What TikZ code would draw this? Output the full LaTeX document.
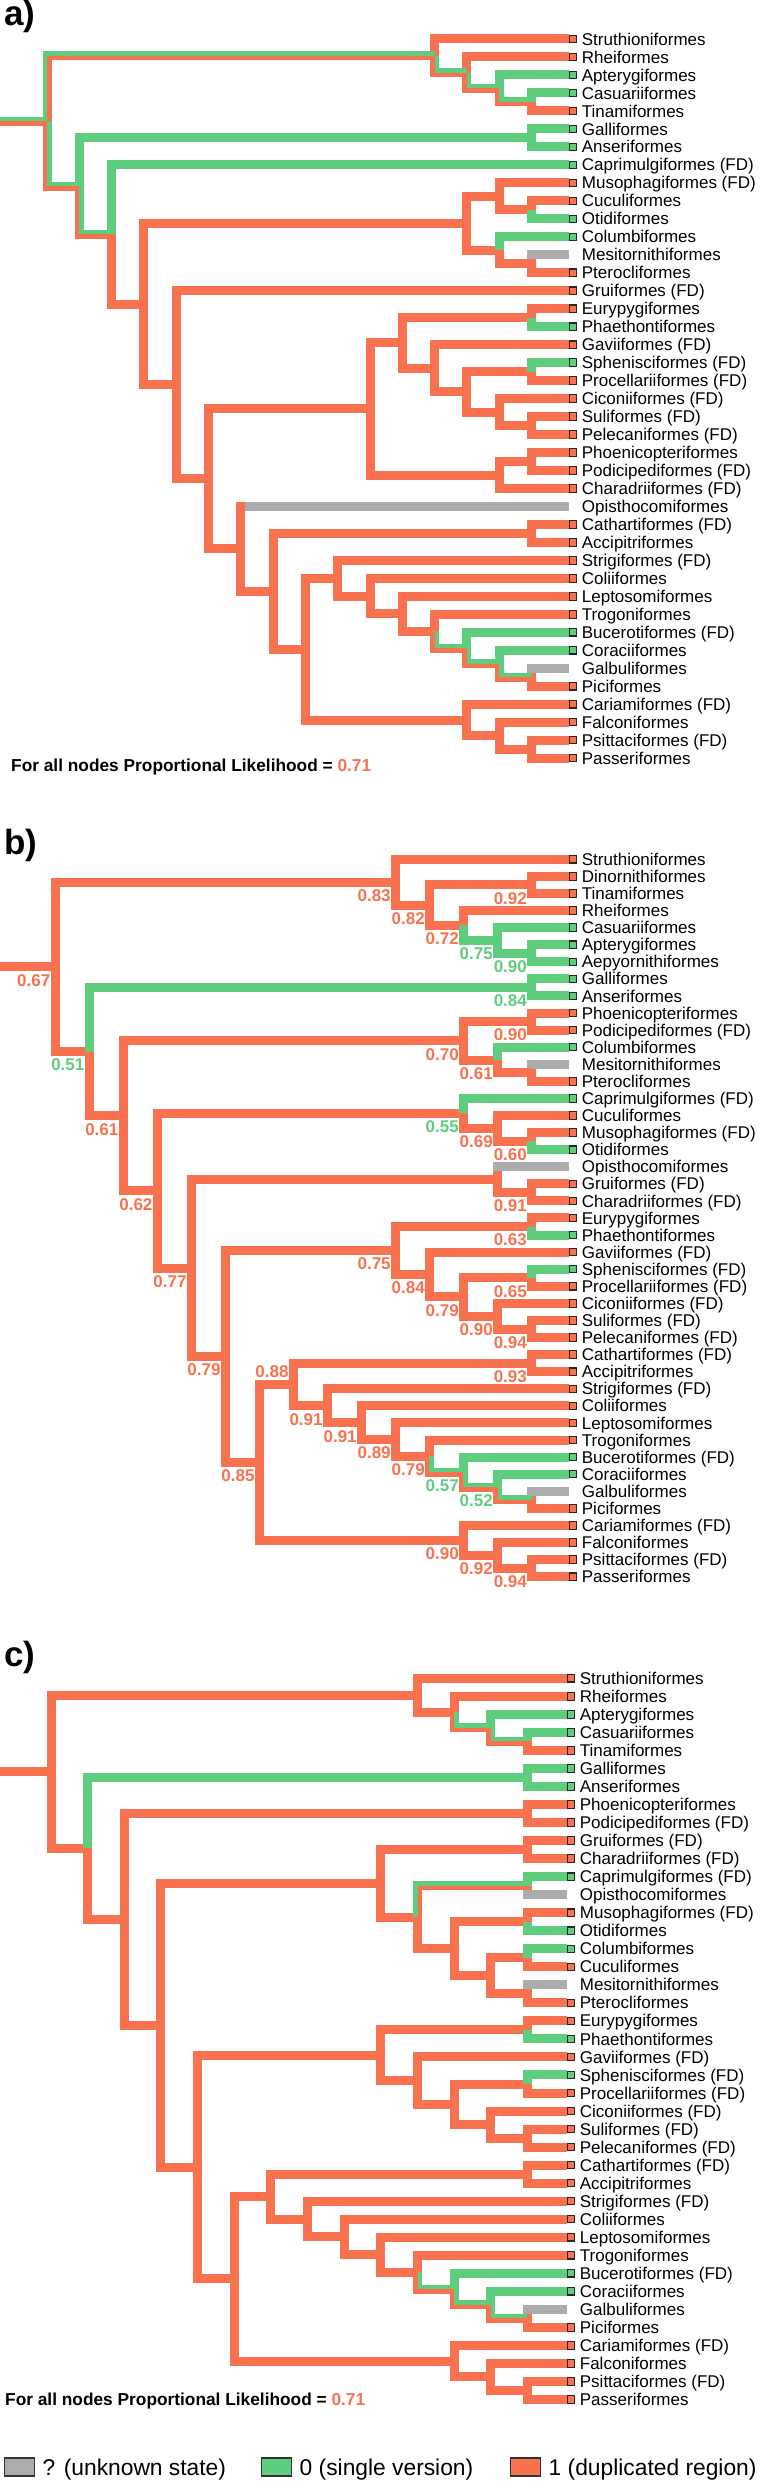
\documentclass[tikz,border=0pt]{standalone}
\usepackage{fontspec}
\setmainfont{Liberation Sans}
\usetikzlibrary{calc, positioning}

\definecolor{co}{RGB}{249,114,79}
\definecolor{cg}{RGB}{94,206,126}
\definecolor{cu}{RGB}{172,172,172}

% clade node: name, level, first child, second child
\newcommand\clade[4]{\path let \p1=($(#3)!.5!(#4)$) in ({\xo+#2*\dx},\y1) coordinate (#1);}
\newcommand\branch[3][co]{\draw[br,#1] (#2) |- (#3);}
\newcommand\mixup[2]{%
  \draw[half,cg] ($(#1)+(-2.25,0)$) |- ($(#2)+(0,-2.25)$);
  \draw[half,co] ($(#1)+(2.25,0)$) |- ($(#2)+(0,2.25)$);}
\newcommand\mixdown[2]{%
  \draw[half,cg] ($(#1)+(2.25,0)$) |- ($(#2)+(0,-2.25)$);
  \draw[half,co] ($(#1)+(-2.25,0)$) |- ($(#2)+(0,2.25)$);}
\newcommand\unknowntip[3][-4.5]{%
  \draw[br,co] (#2) |- (#3.west);
  \draw[br,cu] ($(#2 |- #3)+(#1,0)$) -- (#3.west);}

\begin{document}
\begin{tikzpicture}[
    x=1pt, y=-1pt,
    br/.style={line width=9pt},
    half/.style={line width=4.5pt},
    tipbox/.style={draw=black!85, line width=1.1pt, minimum size=7.4pt, inner sep=0pt, outer sep=0pt},
    bo/.style={fill=co}, bg/.style={fill=cg}, bu/.style={draw=none},
    tiplab/.style={font=\fontsize{17}{17}\selectfont, inner sep=0pt, text height=12.2pt, text depth=0pt},
    nl/.style={font=\bfseries\fontsize{17}{17}\selectfont, inner sep=0pt, text height=12.2pt, text depth=0pt},
    note/.style={anchor=west, font=\bfseries\fontsize{17.3}{17.3}\selectfont, inner sep=0pt, text height=12.4pt, text depth=0pt},
    panel/.style={anchor=base west, font=\bfseries\fontsize{35}{35}\selectfont, inner sep=0pt},
    legbox/.style={draw=black!80, line width=1.2pt, minimum width=30pt, minimum height=18pt, inner sep=0pt, outer sep=0pt},
    legtext/.style={font=\fontsize{22.8}{22.8}\selectfont, inner sep=0pt, text height=16.3pt, text depth=0pt}
]
\useasboundingbox (0,0) rectangle (760,2481);

% ================= a) =================
\node[panel] (pa) at (4,26) {a)};
\foreach \id/\st/\lab [count=\i from 0] in {stru/o/Struthioniformes, rhei/o/Rheiformes, apte/g/Apterygiformes, casu/g/Casuariiformes, tina/o/Tinamiformes, gall/g/Galliformes, anse/g/Anseriformes, capr/g/Caprimulgiformes (FD), muso/o/Musophagiformes (FD), cucu/o/Cuculiformes, otid/g/Otidiformes, colu/g/Columbiformes, mesi/u/Mesitornithiformes, pter/o/Pterocliformes, grui/o/Gruiformes (FD), eury/o/Eurypygiformes, phae/g/Phaethontiformes, gavi/o/Gaviiformes (FD), sphe/g/Sphenisciformes (FD), proc/o/Procellariiformes (FD), cico/o/Ciconiiformes (FD), suli/o/Suliformes (FD), pele/o/Pelecaniformes (FD), phoe/o/Phoenicopteriformes, podi/o/Podicipediformes (FD), char/o/Charadriiformes (FD), opis/u/Opisthocomiformes, cath/o/Cathartiformes (FD), acci/o/Accipitriformes, stri/o/Strigiformes (FD), coli/o/Coliiformes, lept/o/Leptosomiformes, trog/o/Trogoniformes, buce/g/Bucerotiformes (FD), cora/g/Coraciiformes, galb/u/Galbuliformes, pici/o/Piciformes, cari/o/Cariamiformes (FD), falc/o/Falconiformes, psit/o/Psittaciformes (FD), pass/o/Passeriformes}
{\node[tipbox,b\st] (a-\id) at (573,{39+\i*17.98}) {};
 \node[tiplab, right=5pt of a-\id] (a-\id-t) {\lab};}

\def\xo{47}\def\dx{32.3}
\clade{a-ct}{15}{a-casu}{a-tina}
\clade{a-ac}{14}{a-apte}{a-ct}
\clade{a-rp}{13}{a-rhei}{a-ac}
\clade{a-pal}{12}{a-stru}{a-rp}
\clade{a-ga}{15}{a-gall}{a-anse}
\clade{a-co}{15}{a-cucu}{a-otid}
\clade{a-mc}{14}{a-muso}{a-co}
\clade{a-mp}{15}{a-mesi}{a-pter}
\clade{a-cm}{14}{a-colu}{a-mp}
\clade{a-oti}{13}{a-mc}{a-cm}
\clade{a-ep}{15}{a-eury}{a-phae}
\clade{a-sp}{15}{a-sphe}{a-proc}
\clade{a-sup}{15}{a-suli}{a-pele}
\clade{a-cs}{14}{a-cico}{a-sup}
\clade{a-spc}{13}{a-sp}{a-cs}
\clade{a-gav}{12}{a-gavi}{a-spc}
\clade{a-aq1}{11}{a-ep}{a-gav}
\clade{a-pp}{15}{a-phoe}{a-podi}
\clade{a-ppc}{14}{a-pp}{a-char}
\clade{a-aeq}{10}{a-aq1}{a-ppc}
\clade{a-ca}{15}{a-cath}{a-acci}
\clade{a-gp}{15}{a-galb}{a-pici}
\clade{a-cgp}{14}{a-cora}{a-gp}
\clade{a-bcg}{13}{a-buce}{a-cgp}
\clade{a-tbc}{12}{a-trog}{a-bcg}
\clade{a-ltb}{11}{a-lept}{a-tbc}
\clade{a-clt}{10}{a-coli}{a-ltb}
\clade{a-scl}{9}{a-stri}{a-clt}
\clade{a-psp}{15}{a-psit}{a-pass}
\clade{a-fps}{14}{a-falc}{a-psp}
\clade{a-cfp}{13}{a-cari}{a-fps}
\clade{a-te3}{8}{a-scl}{a-cfp}
\clade{a-te2}{7}{a-ca}{a-te3}
\clade{a-tel}{6}{a-opis}{a-te2}
\clade{a-r4}{5}{a-aeq}{a-tel}
\clade{a-r3}{4}{a-grui}{a-r4}
\clade{a-r2}{3}{a-oti}{a-r3}
\clade{a-na}{2}{a-capr}{a-r2}
\clade{a-neo}{1}{a-ga}{a-na}
\clade{a-root}{0}{a-pal}{a-neo}
\coordinate (a-base) at ($(a-root)+(-47,0)$);

% ---- unknown tips ----
\unknowntip{a-mp}{a-mesi}
\unknowntip[4.5]{a-tel}{a-opis}
\unknowntip{a-gp}{a-galb}
% ---- state 1 ----
\foreach \p/\c in {a-pal/a-stru.west, a-rp/a-rhei.west, a-ct/a-tina.west, a-na/a-r2, a-r2/a-oti, a-oti/a-mc, a-mc/a-muso.west, a-mc/a-co, a-co/a-cucu.west, a-oti/a-cm, a-cm/a-mp, a-mp/a-pter.west, a-r2/a-r3, a-r3/a-grui.west, a-r3/a-r4, a-r4/a-aeq, a-aeq/a-aq1, a-aq1/a-ep, a-ep/a-eury.west, a-aq1/a-gav, a-gav/a-gavi.west, a-gav/a-spc, a-spc/a-sp, a-sp/a-proc.west, a-spc/a-cs, a-cs/a-cico.west, a-cs/a-sup, a-sup/a-suli.west, a-sup/a-pele.west, a-aeq/a-ppc, a-ppc/a-pp, a-pp/a-phoe.west, a-pp/a-podi.west, a-ppc/a-char.west, a-r4/a-tel, a-tel/a-te2, a-te2/a-ca, a-ca/a-cath.west, a-ca/a-acci.west, a-te2/a-te3, a-te3/a-scl, a-scl/a-stri.west, a-scl/a-clt, a-clt/a-coli.west, a-clt/a-ltb, a-ltb/a-lept.west, a-ltb/a-tbc, a-tbc/a-trog.west, a-gp/a-pici.west, a-te3/a-cfp, a-cfp/a-cari.west, a-cfp/a-fps, a-fps/a-falc.west, a-fps/a-psp, a-psp/a-psit.west, a-psp/a-pass.west}
  {\branch{\p}{\c}}
% ---- state 0 ----
\foreach \p/\c in {a-ac/a-apte.west, a-ct/a-casu.west, a-neo/a-ga, a-ga/a-gall.west, a-ga/a-anse.west, a-na/a-capr.west, a-co/a-otid.west, a-cm/a-colu.west, a-ep/a-phae.west, a-sp/a-sphe.west, a-bcg/a-buce.west, a-cgp/a-cora.west}
  {\branch[cg]{\p}{\c}}
% ---- mixed ----
\mixup{a-base}{a-root}
\mixup{a-root}{a-pal}
\foreach \p/\c in {a-root/a-neo, a-pal/a-rp, a-rp/a-ac, a-ac/a-ct, a-neo/a-na, a-tbc/a-bcg, a-bcg/a-cgp, a-cgp/a-gp}
  {\mixdown{\p}{\c}}

\node[note] (a-note) at (11,765) {For all nodes Proportional Likelihood = \textcolor{co}{0.71}};

% ================= b) =================
\node[panel] (pb) at (4,854) {b)};
\foreach \id/\st/\lab [count=\i from 0] in {stru/o/Struthioniformes, dino/o/Dinornithiformes, tina/o/Tinamiformes, rhei/o/Rheiformes, casu/g/Casuariiformes, apte/g/Apterygiformes, aepy/g/Aepyornithiformes, gall/g/Galliformes, anse/g/Anseriformes, phoe/o/Phoenicopteriformes, podi/o/Podicipediformes (FD), colu/g/Columbiformes, mesi/u/Mesitornithiformes, pter/o/Pterocliformes, capr/g/Caprimulgiformes (FD), cucu/o/Cuculiformes, muso/o/Musophagiformes (FD), otid/g/Otidiformes, opis/u/Opisthocomiformes, grui/o/Gruiformes (FD), char/o/Charadriiformes (FD), eury/o/Eurypygiformes, phae/g/Phaethontiformes, gavi/o/Gaviiformes (FD), sphe/g/Sphenisciformes (FD), proc/o/Procellariiformes (FD), cico/o/Ciconiiformes (FD), suli/o/Suliformes (FD), pele/o/Pelecaniformes (FD), cath/o/Cathartiformes (FD), acci/o/Accipitriformes, stri/o/Strigiformes (FD), coli/o/Coliiformes, lept/o/Leptosomiformes, trog/o/Trogoniformes, buce/g/Bucerotiformes (FD), cora/g/Coraciiformes, galb/u/Galbuliformes, pici/o/Piciformes, cari/o/Cariamiformes (FD), falc/o/Falconiformes, psit/o/Psittaciformes (FD), pass/o/Passeriformes}
{\node[tipbox,b\st] (b-\id) at (573,{859.3+\i*17.08}) {};
 \node[tiplab, right=5pt of b-\id] (b-\id-t) {\lab};}

\def\xo{55}\def\dx{34.04}
\clade{b-dt}{14}{b-dino}{b-tina}
\clade{b-aa}{14}{b-apte}{b-aepy}
\clade{b-caa}{13}{b-casu}{b-aa}
\clade{b-rca}{12}{b-rhei}{b-caa}
\clade{b-p1}{11}{b-dt}{b-rca}
\clade{b-pal}{10}{b-stru}{b-p1}
\clade{b-ga}{14}{b-gall}{b-anse}
\clade{b-pp}{14}{b-phoe}{b-podi}
\clade{b-mp}{14}{b-mesi}{b-pter}
\clade{b-cmp}{13}{b-colu}{b-mp}
\clade{b-c1}{12}{b-pp}{b-cmp}
\clade{b-mo}{14}{b-muso}{b-otid}
\clade{b-cmo}{13}{b-cucu}{b-mo}
\clade{b-c2}{12}{b-capr}{b-cmo}
\clade{b-gc}{14}{b-grui}{b-char}
\clade{b-c3}{13}{b-opis}{b-gc}
\clade{b-ep}{14}{b-eury}{b-phae}
\clade{b-sp}{14}{b-sphe}{b-proc}
\clade{b-sup}{14}{b-suli}{b-pele}
\clade{b-cs}{13}{b-cico}{b-sup}
\clade{b-spc}{12}{b-sp}{b-cs}
\clade{b-gav}{11}{b-gavi}{b-spc}
\clade{b-aeq}{10}{b-ep}{b-gav}
\clade{b-ca}{14}{b-cath}{b-acci}
\clade{b-gp}{14}{b-galb}{b-pici}
\clade{b-cgp}{13}{b-cora}{b-gp}
\clade{b-bcg}{12}{b-buce}{b-cgp}
\clade{b-tbc}{11}{b-trog}{b-bcg}
\clade{b-ltb}{10}{b-lept}{b-tbc}
\clade{b-clt}{9}{b-coli}{b-ltb}
\clade{b-scl}{8}{b-stri}{b-clt}
\clade{b-te1}{7}{b-ca}{b-scl}
\clade{b-psp}{14}{b-psit}{b-pass}
\clade{b-fps}{13}{b-falc}{b-psp}
\clade{b-cfp}{12}{b-cari}{b-fps}
\clade{b-tel}{6}{b-te1}{b-cfp}
\clade{b-na4}{5}{b-aeq}{b-tel}
\clade{b-na3}{4}{b-c3}{b-na4}
\clade{b-na2}{3}{b-c2}{b-na3}
\clade{b-na}{2}{b-c1}{b-na2}
\clade{b-neo}{1}{b-ga}{b-na}
\clade{b-root}{0}{b-pal}{b-neo}
\coordinate (b-base) at ($(b-root)+(-55,0)$);

\unknowntip{b-mp}{b-mesi}
\unknowntip{b-c3}{b-opis}
\unknowntip{b-gp}{b-galb}
\foreach \p/\c in {b-base/b-root, b-root/b-pal, b-pal/b-stru.west, b-pal/b-p1, b-p1/b-dt, b-dt/b-dino.west, b-dt/b-tina.west, b-p1/b-rca, b-rca/b-rhei.west, b-root/b-neo, b-neo/b-na, b-na/b-c1, b-c1/b-pp, b-pp/b-phoe.west, b-pp/b-podi.west, b-c1/b-cmp, b-cmp/b-mp, b-mp/b-pter.west, b-na/b-na2, b-na2/b-c2, b-c2/b-cmo, b-cmo/b-cucu.west, b-cmo/b-mo, b-mo/b-muso.west, b-na2/b-na3, b-na3/b-c3, b-c3/b-gc, b-gc/b-grui.west, b-gc/b-char.west, b-na3/b-na4, b-na4/b-aeq, b-aeq/b-ep, b-ep/b-eury.west, b-aeq/b-gav, b-gav/b-gavi.west, b-gav/b-spc, b-spc/b-sp, b-sp/b-proc.west, b-spc/b-cs, b-cs/b-cico.west, b-cs/b-sup, b-sup/b-suli.west, b-sup/b-pele.west, b-na4/b-tel, b-tel/b-te1, b-te1/b-ca, b-ca/b-cath.west, b-ca/b-acci.west, b-te1/b-scl, b-scl/b-stri.west, b-scl/b-clt, b-clt/b-coli.west, b-clt/b-ltb, b-ltb/b-lept.west, b-ltb/b-tbc, b-tbc/b-trog.west, b-gp/b-pici.west, b-tel/b-cfp, b-cfp/b-cari.west, b-cfp/b-fps, b-fps/b-falc.west, b-fps/b-psp, b-psp/b-psit.west, b-psp/b-pass.west}
  {\branch{\p}{\c}}
\foreach \p/\c in {b-rca/b-caa, b-caa/b-casu.west, b-caa/b-aa, b-aa/b-apte.west, b-aa/b-aepy.west, b-neo/b-ga, b-ga/b-gall.west, b-ga/b-anse.west, b-cmp/b-colu.west, b-c2/b-capr.west, b-mo/b-otid.west, b-ep/b-phae.west, b-sp/b-sphe.west, b-bcg/b-buce.west, b-cgp/b-cora.west}
  {\branch[cg]{\p}{\c}}
\foreach \p/\c in {b-tbc/b-bcg, b-bcg/b-cgp, b-cgp/b-gp}
  {\mixdown{\p}{\c}}

% ---- node likelihoods ----
\foreach \n/\v/\c in {b-root/0.67/co, b-pal/0.83/co, b-p1/0.82/co, b-dt/0.92/co, b-rca/0.72/co, b-caa/0.75/cg, b-aa/0.90/cg, b-ga/0.84/cg, b-neo/0.51/cg, b-pp/0.90/co, b-c1/0.70/co, b-cmp/0.61/co, b-na/0.61/co, b-c2/0.55/cg, b-cmo/0.69/co, b-mo/0.60/co, b-gc/0.91/co, b-na2/0.62/co, b-na3/0.77/co, b-aeq/0.75/co, b-ep/0.63/co, b-gav/0.84/co, b-sp/0.65/co, b-spc/0.79/co, b-cs/0.90/co, b-sup/0.94/co, b-na4/0.79/co, b-ca/0.93/co, b-scl/0.91/co, b-clt/0.91/co, b-ltb/0.89/co, b-tbc/0.79/co, b-bcg/0.57/cg, b-cgp/0.52/cg, b-tel/0.85/co, b-cfp/0.90/co, b-fps/0.92/co, b-psp/0.94/co}
  {\node[nl, text=\c, below left=7pt and 4.5pt of \n] (\n-v) {\v};}
\node[nl, text=co, above left=7pt and 4.5pt of b-te1] (b-te1-v) {0.88};

% ================= c) =================
\node[panel] (pc) at (4,1666) {c)};
\foreach \id/\st/\lab [count=\i from 0] in {stru/o/Struthioniformes, rhei/o/Rheiformes, apte/g/Apterygiformes, casu/g/Casuariiformes, tina/o/Tinamiformes, gall/g/Galliformes, anse/g/Anseriformes, phoe/o/Phoenicopteriformes, podi/o/Podicipediformes (FD), grui/o/Gruiformes (FD), char/o/Charadriiformes (FD), capr/g/Caprimulgiformes (FD), opis/u/Opisthocomiformes, muso/o/Musophagiformes (FD), otid/g/Otidiformes, colu/g/Columbiformes, cucu/o/Cuculiformes, mesi/u/Mesitornithiformes, pter/o/Pterocliformes, eury/o/Eurypygiformes, phae/g/Phaethontiformes, gavi/o/Gaviiformes (FD), sphe/g/Sphenisciformes (FD), proc/o/Procellariiformes (FD), cico/o/Ciconiiformes (FD), suli/o/Suliformes (FD), pele/o/Pelecaniformes (FD), cath/o/Cathartiformes (FD), acci/o/Accipitriformes, stri/o/Strigiformes (FD), coli/o/Coliiformes, lept/o/Leptosomiformes, trog/o/Trogoniformes, buce/g/Bucerotiformes (FD), cora/g/Coraciiformes, galb/u/Galbuliformes, pici/o/Piciformes, cari/o/Cariamiformes (FD), falc/o/Falconiformes, psit/o/Psittaciformes (FD), pass/o/Passeriformes}
{\node[tipbox,b\st] (c-\id) at (571,{1678.3+\i*18.03}) {};
 \node[tiplab, right=5pt of c-\id] (c-\id-t) {\lab};}

\def\xo{51}\def\dx{36.65}
\clade{c-ct}{13}{c-casu}{c-tina}
\clade{c-ac}{12}{c-apte}{c-ct}
\clade{c-rp}{11}{c-rhei}{c-ac}
\clade{c-pal}{10}{c-stru}{c-rp}
\clade{c-ga}{13}{c-gall}{c-anse}
\clade{c-pp}{13}{c-phoe}{c-podi}
\clade{c-gc}{13}{c-grui}{c-char}
\clade{c-co}{13}{c-capr}{c-opis}
\clade{c-mo}{13}{c-muso}{c-otid}
\clade{c-cc}{13}{c-colu}{c-cucu}
\clade{c-mp}{13}{c-mesi}{c-pter}
\clade{c-c4}{12}{c-cc}{c-mp}
\clade{c-c3}{11}{c-mo}{c-c4}
\clade{c-c1}{10}{c-co}{c-c3}
\clade{c-c0}{9}{c-gc}{c-c1}
\clade{c-ep}{13}{c-eury}{c-phae}
\clade{c-sp}{13}{c-sphe}{c-proc}
\clade{c-sup}{13}{c-suli}{c-pele}
\clade{c-cs}{12}{c-cico}{c-sup}
\clade{c-spc}{11}{c-sp}{c-cs}
\clade{c-gav}{10}{c-gavi}{c-spc}
\clade{c-aeq}{9}{c-ep}{c-gav}
\clade{c-ca}{13}{c-cath}{c-acci}
\clade{c-gp}{13}{c-galb}{c-pici}
\clade{c-cgp}{12}{c-cora}{c-gp}
\clade{c-bcg}{11}{c-buce}{c-cgp}
\clade{c-tbc}{10}{c-trog}{c-bcg}
\clade{c-ltb}{9}{c-lept}{c-tbc}
\clade{c-clt}{8}{c-coli}{c-ltb}
\clade{c-scl}{7}{c-stri}{c-clt}
\clade{c-te1}{6}{c-ca}{c-scl}
\clade{c-psp}{13}{c-psit}{c-pass}
\clade{c-fps}{12}{c-falc}{c-psp}
\clade{c-cfp}{11}{c-cari}{c-fps}
\clade{c-tel}{5}{c-te1}{c-cfp}
\clade{c-na3}{4}{c-aeq}{c-tel}
\clade{c-na2}{3}{c-c0}{c-na3}
\clade{c-na}{2}{c-pp}{c-na2}
\clade{c-neo}{1}{c-ga}{c-na}
\clade{c-root}{0}{c-pal}{c-neo}
\coordinate (c-base) at ($(c-root)+(-51,0)$);

\unknowntip{c-co}{c-opis}
\unknowntip{c-mp}{c-mesi}
\unknowntip{c-gp}{c-galb}
\foreach \p/\c in {c-base/c-root, c-root/c-pal, c-pal/c-stru.west, c-pal/c-rp, c-rp/c-rhei.west, c-ct/c-tina.west, c-root/c-neo, c-neo/c-na, c-na/c-pp, c-pp/c-phoe.west, c-pp/c-podi.west, c-na/c-na2, c-na2/c-c0, c-c0/c-gc, c-gc/c-grui.west, c-gc/c-char.west, c-c0/c-c1, c-c1/c-c3, c-c3/c-mo, c-mo/c-muso.west, c-c3/c-c4, c-c4/c-cc, c-cc/c-cucu.west, c-c4/c-mp, c-mp/c-pter.west, c-na2/c-na3, c-na3/c-aeq, c-aeq/c-ep, c-ep/c-eury.west, c-aeq/c-gav, c-gav/c-gavi.west, c-gav/c-spc, c-spc/c-sp, c-sp/c-proc.west, c-spc/c-cs, c-cs/c-cico.west, c-cs/c-sup, c-sup/c-suli.west, c-sup/c-pele.west, c-na3/c-tel, c-tel/c-te1, c-te1/c-ca, c-ca/c-cath.west, c-ca/c-acci.west, c-te1/c-scl, c-scl/c-stri.west, c-scl/c-clt, c-clt/c-coli.west, c-clt/c-ltb, c-ltb/c-lept.west, c-ltb/c-tbc, c-tbc/c-trog.west, c-gp/c-pici.west, c-tel/c-cfp, c-cfp/c-cari.west, c-cfp/c-fps, c-fps/c-falc.west, c-fps/c-psp, c-psp/c-psit.west, c-psp/c-pass.west}
  {\branch{\p}{\c}}
\foreach \p/\c in {c-ac/c-apte.west, c-ct/c-casu.west, c-neo/c-ga, c-ga/c-gall.west, c-ga/c-anse.west, c-co/c-capr.west, c-mo/c-otid.west, c-cc/c-colu.west, c-ep/c-phae.west, c-sp/c-sphe.west, c-bcg/c-buce.west, c-cgp/c-cora.west}
  {\branch[cg]{\p}{\c}}
\mixup{c-c1}{c-co}
\foreach \p/\c in {c-rp/c-ac, c-ac/c-ct, c-tbc/c-bcg, c-bcg/c-cgp, c-cgp/c-gp}
  {\mixdown{\p}{\c}}

\node[note] (c-note) at (5,2399.3) {For all nodes Proportional Likelihood = \textcolor{co}{0.71}};

% ================= legend =================
\node[legbox, fill=cu] (key-u) at (19.5,2467) {};
\node[legtext, right=8pt of key-u] (key-ut) {? (unknown state)};
\node[legbox, fill=cg] (key-g) at (276.5,2467) {};
\node[legtext, right=8pt of key-g] (key-gt) {0 (single version)};
\node[legbox, fill=co] (key-o) at (525.5,2467) {};
\node[legtext, right=8pt of key-o] (key-ot) {1 (duplicated region)};

\end{tikzpicture}
\end{document}
